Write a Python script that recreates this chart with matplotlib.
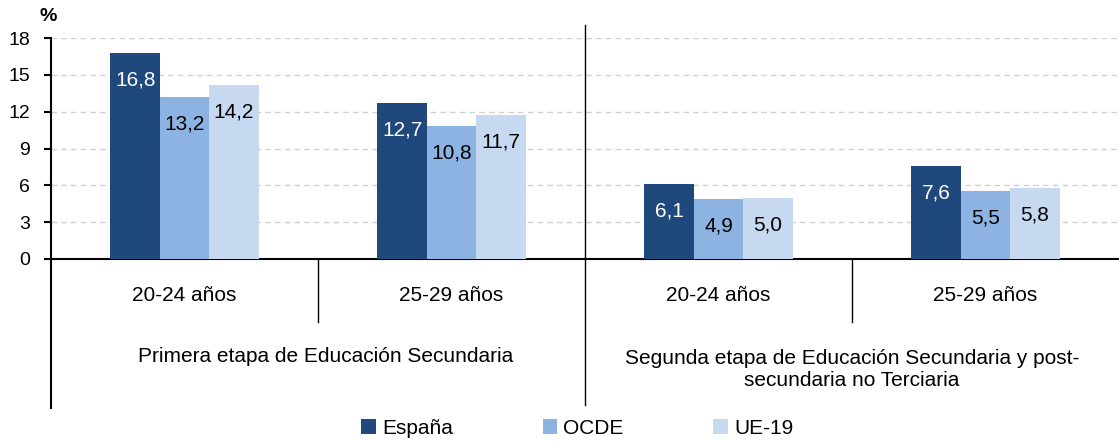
import numpy as np
import matplotlib.pyplot as plt

plt.rcParams['font.family'] = ['Liberation Sans', 'DejaVu Sans']

# data
grupos = ['20-24 años', '25-29 años', '20-24 años', '25-29 años']
etapas = ['Primera etapa de Educación Secundaria',
          'Segunda etapa de Educación Secundaria y post-\nsecundaria no Terciaria']
espana = [16.8, 12.7, 6.1, 7.6]
ocde = [13.2, 10.8, 4.9, 5.5]
ue19 = [14.2, 11.7, 5.0, 5.8]
series = ['España', 'OCDE', 'UE-19']
colores = ['#1F497D', '#8DB3E2', '#C6D9F1']
color_texto = ['white', 'black', 'black']

fig = plt.figure(figsize=(11.19, 4.41), dpi=100)
ax = fig.add_axes([0.0456, 0.4127, 0.9544, 0.5011])

x = np.arange(len(grupos))
w = 0.185
for i, (vals, nombre) in enumerate(zip([espana, ocde, ue19], series)):
    pos = x + (i - 1) * w
    bars = ax.bar(pos, vals, width=w, color=colores[i], label=nombre, zorder=3)
    for b, v in zip(bars, vals):
        ax.annotate(f'{v:.1f}'.replace('.', ','),
                    (b.get_x() + b.get_width() / 2, v),
                    xytext=(0, -27), textcoords='offset pixels',
                    ha='center', va='center', fontsize=15, color=color_texto[i], zorder=4)

ax.set_xlim(-0.5, 3.5)
ax.set_ylim(0, 18)
ax.set_yticks(range(0, 19, 3))
ax.tick_params(axis='y', labelsize=14, length=5, width=1.5, pad=10)
ax.set_xticks([])
ax.grid(axis='y', color='#d0d0d0', linestyle=(0, (4, 3)), linewidth=1, zorder=0)
for s in ['top', 'right']:
    ax.spines[s].set_visible(False)
ax.spines['left'].set_linewidth(1.5)
ax.spines['bottom'].set_linewidth(1.5)

tr = ax.get_xaxis_transform()
# left spine extended down
ax.plot([-0.5, -0.5], [0, -0.674], transform=tr, color='black', lw=1.5, clip_on=False)
# separators
ax.plot([0.5, 0.5], [0, -0.285], transform=tr, color='black', lw=1, clip_on=False)
ax.plot([2.5, 2.5], [0, -0.285], transform=tr, color='black', lw=1, clip_on=False)
ax.plot([1.5, 1.5], [1.059, -0.66], transform=tr, color='black', lw=1, clip_on=False)

for xi, g in zip(x, grupos):
    ax.text(xi, -0.167, g, transform=tr, ha='center', va='center', fontsize=15)
ax.text(0.53, -0.443, etapas[0], transform=tr, ha='center', va='center', fontsize=15)
ax.text(2.5, -0.5, etapas[1], transform=tr, ha='center', va='center', fontsize=15,
        linespacing=1.25)

fig.text(0.043, 0.962, '%', fontsize=14, fontweight='bold', ha='center', va='center')

fig.legend(loc='center', bbox_to_anchor=(0.516, 0.029), ncol=3, frameon=False,
           fontsize=15, handlelength=0.7, handleheight=0.7, handletextpad=0.3,
           columnspacing=4.3)

fig.savefig('out.png', dpi=100)
